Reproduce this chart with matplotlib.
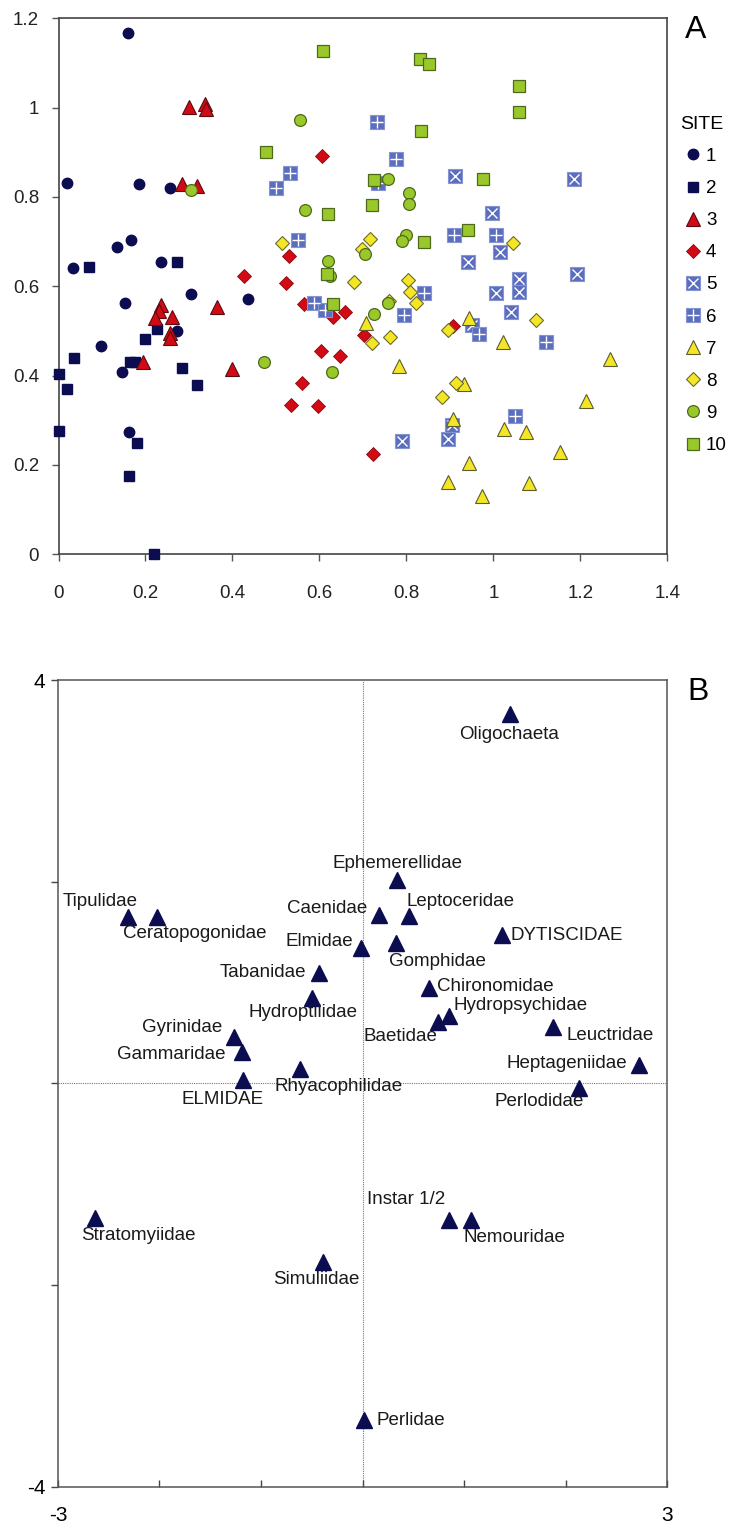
import matplotlib.pyplot as plt
from matplotlib.lines import Line2D

# ---- panel A: site scores ----
s1_x = [0.159, 0.019, 0.184, 0.256, 0.134, 0.166, 0.033, 0.236, 0.153, 0.304, 0.436, 0.272, 0.098, 0.145, 0.163]
s1_y = [1.168, 0.831, 0.828, 0.821, 0.687, 0.703, 0.642, 0.654, 0.562, 0.583, 0.572, 0.501, 0.467, 0.407, 0.274]
s2_x = [0.071, 0.272, 0.0, 0.019, 0.036, 0.0, 0.164, 0.175, 0.200, 0.226, 0.283, 0.318, 0.181, 0.163, 0.220]
s2_y = [0.644, 0.654, 0.403, 0.369, 0.440, 0.277, 0.431, 0.431, 0.482, 0.504, 0.418, 0.378, 0.250, 0.176, 0.0]
s3_x = [0.301, 0.337, 0.339, 0.285, 0.319, 0.236, 0.232, 0.222, 0.260, 0.256, 0.256, 0.365, 0.194, 0.400]
s3_y = [1.002, 1.008, 0.998, 0.830, 0.825, 0.558, 0.545, 0.530, 0.532, 0.495, 0.485, 0.554, 0.431, 0.415]
s4_x = [0.605, 0.426, 0.531, 0.522, 0.565, 0.632, 0.659, 0.603, 0.647, 0.561, 0.534, 0.596, 0.702, 0.724, 0.908]
s4_y = [0.892, 0.624, 0.668, 0.607, 0.561, 0.532, 0.542, 0.454, 0.444, 0.383, 0.334, 0.332, 0.491, 0.225, 0.510]
s5_x = [0.912, 1.186, 0.997, 1.015, 0.942, 1.193, 1.059, 1.059, 1.006, 1.040, 0.951, 0.789, 0.896, 0.904]
s5_y = [0.848, 0.840, 0.765, 0.676, 0.654, 0.627, 0.616, 0.588, 0.584, 0.542, 0.513, 0.254, 0.257, 0.289]
s6_x = [0.500, 0.532, 0.551, 0.587, 0.613, 0.733, 0.776, 0.735, 0.909, 1.007, 0.841, 0.795, 0.967, 1.121, 1.049]
s6_y = [0.819, 0.853, 0.704, 0.563, 0.547, 0.968, 0.884, 0.832, 0.715, 0.715, 0.584, 0.536, 0.493, 0.475, 0.310]
s7_x = [0.707, 0.944, 1.023, 0.783, 1.268, 0.932, 1.212, 0.908, 1.024, 1.074, 1.153, 0.944, 0.896, 1.082, 0.975]
s7_y = [0.517, 0.528, 0.476, 0.422, 0.437, 0.381, 0.343, 0.302, 0.281, 0.274, 0.228, 0.205, 0.161, 0.159, 0.131]
s8_x = [0.513, 0.716, 0.697, 0.679, 0.803, 0.808, 0.823, 0.760, 0.762, 0.722, 0.895, 1.046, 1.098, 0.881, 0.913]
s8_y = [0.698, 0.705, 0.683, 0.609, 0.613, 0.587, 0.563, 0.568, 0.487, 0.472, 0.502, 0.698, 0.524, 0.353, 0.383]
s9_x = [0.555, 0.304, 0.567, 0.620, 0.624, 0.758, 0.806, 0.806, 0.798, 0.789, 0.705, 0.758, 0.726, 0.473, 0.630]
s9_y = [0.972, 0.816, 0.771, 0.657, 0.623, 0.840, 0.808, 0.784, 0.715, 0.702, 0.672, 0.563, 0.539, 0.431, 0.407]
s10_x = [0.609, 0.477, 0.619, 0.617, 0.632, 0.831, 0.852, 1.059, 1.059, 0.833, 0.726, 0.977, 0.720, 0.942, 0.841]
s10_y = [1.127, 0.901, 0.761, 0.627, 0.560, 1.109, 1.098, 1.048, 0.991, 0.948, 0.838, 0.840, 0.783, 0.726, 0.700]

site_labels = ['1', '2', '3', '4', '5', '6', '7', '8', '9', '10']
xticks_a = [0, 0.2, 0.4, 0.6, 0.8, 1.0, 1.2, 1.4]
xlabels_a = ['0', '0.2', '0.4', '0.6', '0.8', '1', '1.2', '1.4']
yticks_a = [0, 0.2, 0.4, 0.6, 0.8, 1.0, 1.2]
ylabels_a = ['0', '0.2', '0.4', '0.6', '0.8', '1', '1.2']

# ---- panel B: taxa scores ----
taxa = ['Oligochaeta', 'Ephemerellidae', 'Caenidae', 'Leptoceridae', 'DYTISCIDAE',
        'Elmidae', 'Gomphidae', 'Tabanidae', 'Chironomidae', 'Hydroptilidae',
        'Hydropsychidae', 'Baetidae', 'Leuctridae', 'Heptageniidae', 'Perlodidae',
        'Tipulidae', 'Ceratopogonidae', 'Gyrinidae', 'Gammaridae', 'ELMIDAE',
        'Rhyacophilidae', 'Stratomyiidae', 'Instar 1/2', 'Nemouridae', 'Simuliidae',
        'Perlidae']
taxa_x = [1.45, 0.34, 0.16, 0.46, 1.37, -0.01, 0.33, -0.43, 0.66, -0.50,
          0.85, 0.74, 1.88, 2.72, 2.13, -2.31, -2.02, -1.27, -1.19, -1.18,
          -0.62, -2.64, 0.85, 1.07, -0.39, 0.01]
taxa_y = [3.66, 2.02, 1.67, 1.66, 1.47, 1.34, 1.39, 1.10, 0.95, 0.85,
          0.67, 0.61, 0.56, 0.18, -0.04, 1.65, 1.65, 0.46, 0.31, 0.03,
          0.14, -1.33, -1.35, -1.35, -1.77, -3.34]

# label placement (offset in pixels, alignment)
label_pos = {
    'Oligochaeta': (-1, -20, 'center'), 'Ephemerellidae': (0, 16, 'center'),
    'Caenidae': (-11, 7, 'right'), 'Leptoceridae': (-3, 15, 'left'),
    'DYTISCIDAE': (9, 0, 'left'), 'Elmidae': (-8, 7, 'right'),
    'Gomphidae': (-7, -18, 'left'), 'Tabanidae': (-13, 0, 'right'),
    'Chironomidae': (8, 1, 'left'), 'Hydroptilidae': (-9, -15, 'center'),
    'Hydropsychidae': (5, 10, 'left'), 'Baetidae': (0, -15, 'right'),
    'Leuctridae': (13, -8, 'left'), 'Heptageniidae': (-11, 2, 'right'),
    'Perlodidae': (-40, -14, 'center'), 'Tipulidae': (-28, 16, 'center'),
    'Ceratopogonidae': (37, -16, 'center'), 'Gyrinidae': (-11, 10, 'right'),
    'Gammaridae': (-16, -2, 'right'), 'ELMIDAE': (-20, -19, 'center'),
    'Rhyacophilidae': (-25, -17, 'left'), 'Stratomyiidae': (44, -18, 'center'),
    'Instar 1/2': (-82, 20, 'left'), 'Nemouridae': (-8, -18, 'left'),
    'Simuliidae': (-7, -17, 'center'), 'Perlidae': (13, 0, 'left'),
}

navy = '#0c0c50'
red = '#d20a14'
blue = '#5b6dbd'
yellow = '#f4e625'
green = '#9ac82a'

fig = plt.figure(figsize=(7.35, 15.24), dpi=100)
plt.rcParams['font.family'] = ['Liberation Sans', 'DejaVu Sans']

# ---------------- panel A ----------------
ax = fig.add_axes([0.0796, 0.6363, 0.8283, 0.3517])

sites = [
    (s1_x, s1_y, dict(marker='o', ms=7.5, mfc=navy, mec=navy)),
    (s2_x, s2_y, dict(marker='s', ms=7.5, mfc=navy, mec=navy)),
    (s3_x, s3_y, dict(marker='^', ms=10, mfc=red, mec='#5a0a10', mew=0.8)),
    (s4_x, s4_y, dict(marker='D', ms=6.8, mfc=red, mec='#8a0a10', mew=0.6)),
    (s5_x, s5_y, dict(marker='s', ms=10.5, mfc=blue, mec='#8494d4', mew=0.8)),
    (s6_x, s6_y, dict(marker='s', ms=10.5, mfc=blue, mec='#8494d4', mew=0.8)),
    (s7_x, s7_y, dict(marker='^', ms=10, mfc=yellow, mec='#5c5c30', mew=0.8)),
    (s8_x, s8_y, dict(marker='D', ms=6.8, mfc=yellow, mec='#6a6a30', mew=0.8)),
    (s9_x, s9_y, dict(marker='o', ms=8.5, mfc=green, mec='#4d6a1c', mew=0.9)),
    (s10_x, s10_y, dict(marker='s', ms=8.5, mfc=green, mec='#4d6a1c', mew=0.9)),
]
handles = []
for i, (xs, ys, st) in enumerate(sites):
    ax.plot(xs, ys, ls='none', zorder=3 + i, clip_on=False, **st)
    h = Line2D([], [], ls='none', **st)
    if i == 4:
        ax.plot(xs, ys, ls='none', marker='x', ms=7, mec='white', mew=1, zorder=3 + i, clip_on=False)
        h = (h, Line2D([], [], ls='none', marker='x', ms=7, mec='white', mew=1))
    elif i == 5:
        ax.plot(xs, ys, ls='none', marker='+', ms=8, mec='white', mew=1, zorder=3 + i, clip_on=False)
        h = (h, Line2D([], [], ls='none', marker='+', ms=8, mec='white', mew=1))
    handles.append(h)

ax.set_xlim(0, 1.4)
ax.set_ylim(0, 1.2)
ax.set_xticks(xticks_a)
ax.set_xticklabels(xlabels_a)
ax.set_yticks(yticks_a)
ax.set_yticklabels(ylabels_a)
ax.tick_params(direction='out', length=5, width=1, color='#555555',
               labelsize=13.5, labelcolor='#222222')
ax.tick_params(axis='x', pad=17)
ax.tick_params(axis='y', pad=9)
for sp in ax.spines.values():
    sp.set_color('#444444')
    sp.set_linewidth(1.2)

leg = ax.legend(handles, site_labels, title='SITE', loc='upper left',
                bbox_to_anchor=(1.008, 0.832), frameon=False, fontsize=13.5,
                title_fontsize=14, handlelength=1.4, handletextpad=0.0,
                labelspacing=0.8, borderaxespad=0)
leg._legend_box.align = 'left'
fig.text(0.947, 0.980, 'A', fontsize=23, ha='center', va='center')

# ---------------- panel B ----------------
bx = fig.add_axes([0.0789, 0.0243, 0.8286, 0.5295])

bx.axvline(0, color='#777777', lw=0.8, ls=(0, (1, 1)), zorder=1)
bx.axhline(0, color='#777777', lw=0.8, ls=(0, (1, 1)), zorder=1)
bx.plot(taxa_x, taxa_y, ls='none', marker='^', ms=11, mfc=navy, mec=navy, zorder=3)
for name, tx, ty in zip(taxa, taxa_x, taxa_y):
    dx, dy, ha = label_pos[name]
    bx.annotate(name, (tx, ty), xytext=(dx, dy), textcoords='offset pixels',
                ha=ha, va='center', fontsize=13.5, color='#1a1a1a')

bx.set_xlim(-3, 3)
bx.set_ylim(-4, 4)
bx.set_xticks([-3, -2, -1, 0, 1, 2, 3])
bx.set_xticklabels(['-3', '', '', '', '', '', '3'])
bx.set_yticks([-4, -2, 0, 2, 4])
bx.set_yticklabels(['-4', '', '', '', '4'])
bx.tick_params(axis='x', direction='in', length=5, width=1, color='#444444',
               labelsize=15, pad=14)
bx.tick_params(axis='y', direction='out', length=5, width=1, color='#444444',
               labelsize=15, pad=4)
for sp in bx.spines.values():
    sp.set_color('#555555')
    sp.set_linewidth(1.1)
fig.text(0.950, 0.546, 'B', fontsize=23, ha='center', va='center')

fig.savefig('out.png', dpi=100)
